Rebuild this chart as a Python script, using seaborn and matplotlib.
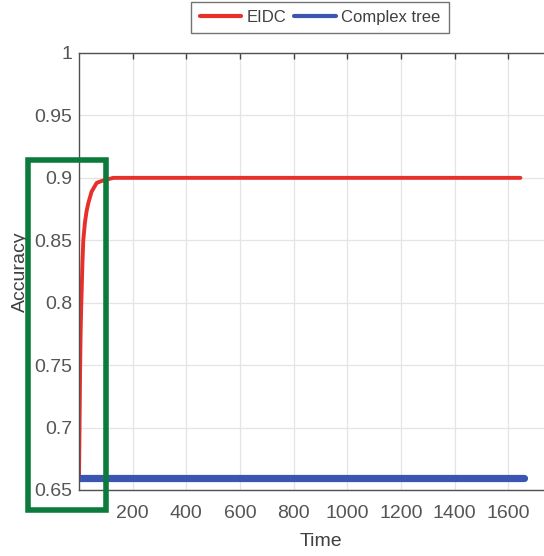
import pandas as pd
import matplotlib.pyplot as plt
import seaborn as sns
from matplotlib.patches import Rectangle
from matplotlib.lines import Line2D

# values
eidc_time = [0, 2, 4, 6, 8, 10, 13, 16, 22, 28, 35, 47, 66, 91, 128, 300, 600, 900, 1200, 1645]
eidc_acc = [0.66, 0.70, 0.745, 0.775, 0.795, 0.81, 0.833, 0.85, 0.864, 0.873, 0.88, 0.889, 0.896, 0.898, 0.9, 0.9, 0.9, 0.9, 0.9, 0.9]
tree_time = [0, 1660]
tree_acc = [0.66, 0.66]

x_ticks = [200, 400, 600, 800, 1000, 1200, 1400, 1600]
y_ticks = [0.65, 0.7, 0.75, 0.8, 0.85, 0.9, 0.95, 1]
y_labels = ["0.65", "0.7", "0.75", "0.8", "0.85", "0.9", "0.95", "1"]

eidc_df = pd.DataFrame({"Time": eidc_time, "Accuracy": eidc_acc})
tree_df = pd.DataFrame({"Time": tree_time, "Accuracy": tree_acc})

sns.set_style("white")
plt.rcParams["font.family"] = ["Liberation Sans", "DejaVu Sans"]

fig = plt.figure(figsize=(5.44, 5.56), dpi=100)
ax = fig.add_axes([79 / 544, 66 / 556, 483 / 544, 437 / 556])

sns.lineplot(data=eidc_df, x="Time", y="Accuracy", ax=ax, color="#e8302a", lw=2.8)
sns.lineplot(data=tree_df, x="Time", y="Accuracy", ax=ax, color="#3a56b0", lw=5.2)

ax.set_xlim(0, 1800)
ax.set_ylim(0.65, 1)
ax.set_xticks(x_ticks)
ax.set_yticks(y_ticks)
ax.set_yticklabels(y_labels)
ax.grid(True, color="#e4e4e4", lw=0.9)
ax.set_axisbelow(True)
ax.tick_params(direction="in", length=4, width=1, color="#404040",
               labelsize=14, labelcolor="#555555", top=True, right=False)
ax.tick_params(axis="x", pad=11)
ax.tick_params(axis="y", pad=5)
for side in ["left", "bottom", "top"]:
    ax.spines[side].set_color("#505050")
    ax.spines[side].set_linewidth(1)
ax.spines["right"].set_visible(False)
ax.set_xlabel("Time", fontsize=14, color="#404040", labelpad=8)
ax.set_ylabel("Accuracy", fontsize=14, color="#404040", labelpad=4)

handles = [Line2D([], [], color="#e8302a", lw=3), Line2D([], [], color="#3a56b0", lw=3)]
leg = fig.legend(handles, ["EIDC", "Complex tree"], ncol=2, loc="upper center",
                 bbox_to_anchor=(320 / 544, 1.0), fontsize=12, frameon=True,
                 fancybox=False, edgecolor="#505050", handlelength=2.5,
                 handletextpad=0.3, columnspacing=0.5, borderpad=0.5,
                 borderaxespad=0.1)
leg.get_frame().set_linewidth(1)
for t in leg.get_texts():
    t.set_color("#404040")

# green highlight box around the early rise
ax.add_patch(Rectangle((-190, 0.634), 290, 0.28, fill=False, edgecolor="#0b7a3b",
                       lw=4, clip_on=False, zorder=5))

fig.savefig("out.png", dpi=100)
